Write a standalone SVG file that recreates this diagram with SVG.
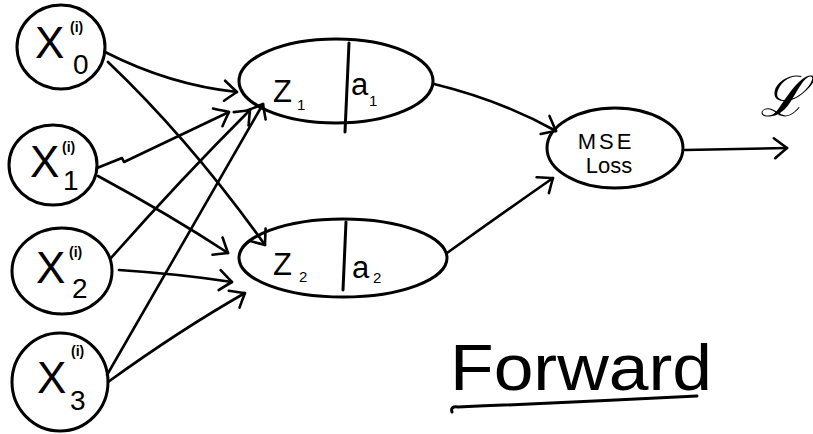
<svg xmlns="http://www.w3.org/2000/svg" width="813" height="434" viewBox="0 0 813 434">
<defs>
<style>
.n{fill:none;stroke:#000;stroke-width:3;stroke-linecap:round;stroke-linejoin:round}
.c{fill:none;stroke:#000;stroke-width:2.6;stroke-linecap:round;stroke-linejoin:round}
.t{font-family:"Liberation Sans",Arial,sans-serif;fill:#000}
.big{font-size:44px}
.sup{font-size:14px;font-weight:bold}
.sub{font-size:28px}
.lab{font-size:31px}
.s{font-size:15px}
</style>
<marker id="ah" viewBox="-16 -12 20 24" markerWidth="20" markerHeight="24" refX="0" refY="0" orient="auto" markerUnits="userSpaceOnUse">
<path d="M -13 -10 Q -4 -3 0 0 Q -5 4 -12 10" fill="none" stroke="#000" stroke-width="2.6" stroke-linecap="round" stroke-linejoin="round"/>
</marker>
</defs>
<rect width="813" height="434" fill="#fff"/>

<g id="connectors">
<path class="c" d="M105 52 Q170 85 237 92" marker-end="url(#ah)"/>
<path class="c" d="M108 62 Q190 140 265 245" marker-end="url(#ah)"/>
<path class="c" d="M97 168 L122 158 L124 162 L229 112" marker-end="url(#ah)"/>
<path class="c" d="M98 176 Q170 215 228 253" marker-end="url(#ah)"/>
<path class="c" d="M111 258 Q180 180 250 110" marker-end="url(#ah)"/>
<path class="c" d="M119 270 Q180 274 232 282" marker-end="url(#ah)"/>
<path class="c" d="M107 375 Q190 230 263 104" marker-end="url(#ah)"/>
<path class="c" d="M108 382 Q180 330 245 293" marker-end="url(#ah)"/>
<path class="c" d="M434 84 Q500 100 556 131" marker-end="url(#ah)"/>
<path class="c" d="M447 253 Q500 215 553 178" marker-end="url(#ah)"/>
<path class="c" d="M685 150 L787 148" marker-end="url(#ah)"/>
</g>

<g id="x0">
<ellipse class="n" cx="61" cy="47" rx="44" ry="42"/>
<text class="t big" x="35" y="58">X</text>
<text class="t sup" x="70" y="32">(i)</text>
<text class="t sub" x="73" y="74">0</text>
</g>
<g id="x1">
<ellipse class="n" cx="53" cy="165" rx="44" ry="40"/>
<text class="t big" x="30" y="177">X</text>
<text class="t sup" x="62" y="152">(i)</text>
<text class="t sub" x="63" y="190">1</text>
</g>
<g id="x2">
<ellipse class="n" cx="62" cy="271" rx="50" ry="43"/>
<text class="t big" x="36" y="283">X</text>
<text class="t sup" x="69" y="257">(i)</text>
<text class="t sub" x="72" y="298">2</text>
</g>
<g id="x3">
<ellipse class="n" cx="60" cy="382" rx="48" ry="49"/>
<text class="t big" x="37" y="393">X</text>
<text class="t sup" x="71" y="356">(i)</text>
<text class="t sub" x="70" y="410">3</text>
</g>

<g id="z1">
<ellipse class="n" cx="336" cy="81" rx="97" ry="42"/>
<path class="n" d="M349 43 L345 132"/>
<text class="t lab" x="273" y="102">Z</text>
<text class="t s" x="297" y="110">1</text>
<text class="t lab" x="351" y="95">a</text>
<text class="t s" x="369" y="106">1</text>
</g>
<g id="z2">
<ellipse class="n" cx="343" cy="258" rx="104" ry="39"/>
<path class="n" d="M346 222 L343 290"/>
<text class="t lab" x="273" y="275">Z</text>
<text class="t s" x="299" y="282">2</text>
<text class="t lab" x="352" y="278">a</text>
<text class="t s" x="373" y="283">2</text>
</g>
<g id="mse">
<ellipse class="n" cx="615" cy="148" rx="68" ry="40"/>
<text class="t" x="606" y="149" font-size="22" text-anchor="middle" letter-spacing="3">MSE</text>
<text class="t" x="609" y="173" font-size="22" text-anchor="middle">Loss</text>
</g>
<g id="loss">
<text class="t" x="760" y="116" font-size="56" font-style="italic" font-family="'DejaVu Serif',serif">ℒ</text>
</g>
<g id="title">
<text class="t" x="450" y="390" font-size="64" textLength="262" lengthAdjust="spacingAndGlyphs">Forward</text>
<path class="n" d="M452 412 Q450 406 458 407 Q580 402 697 396"/>
</g>
</svg>
